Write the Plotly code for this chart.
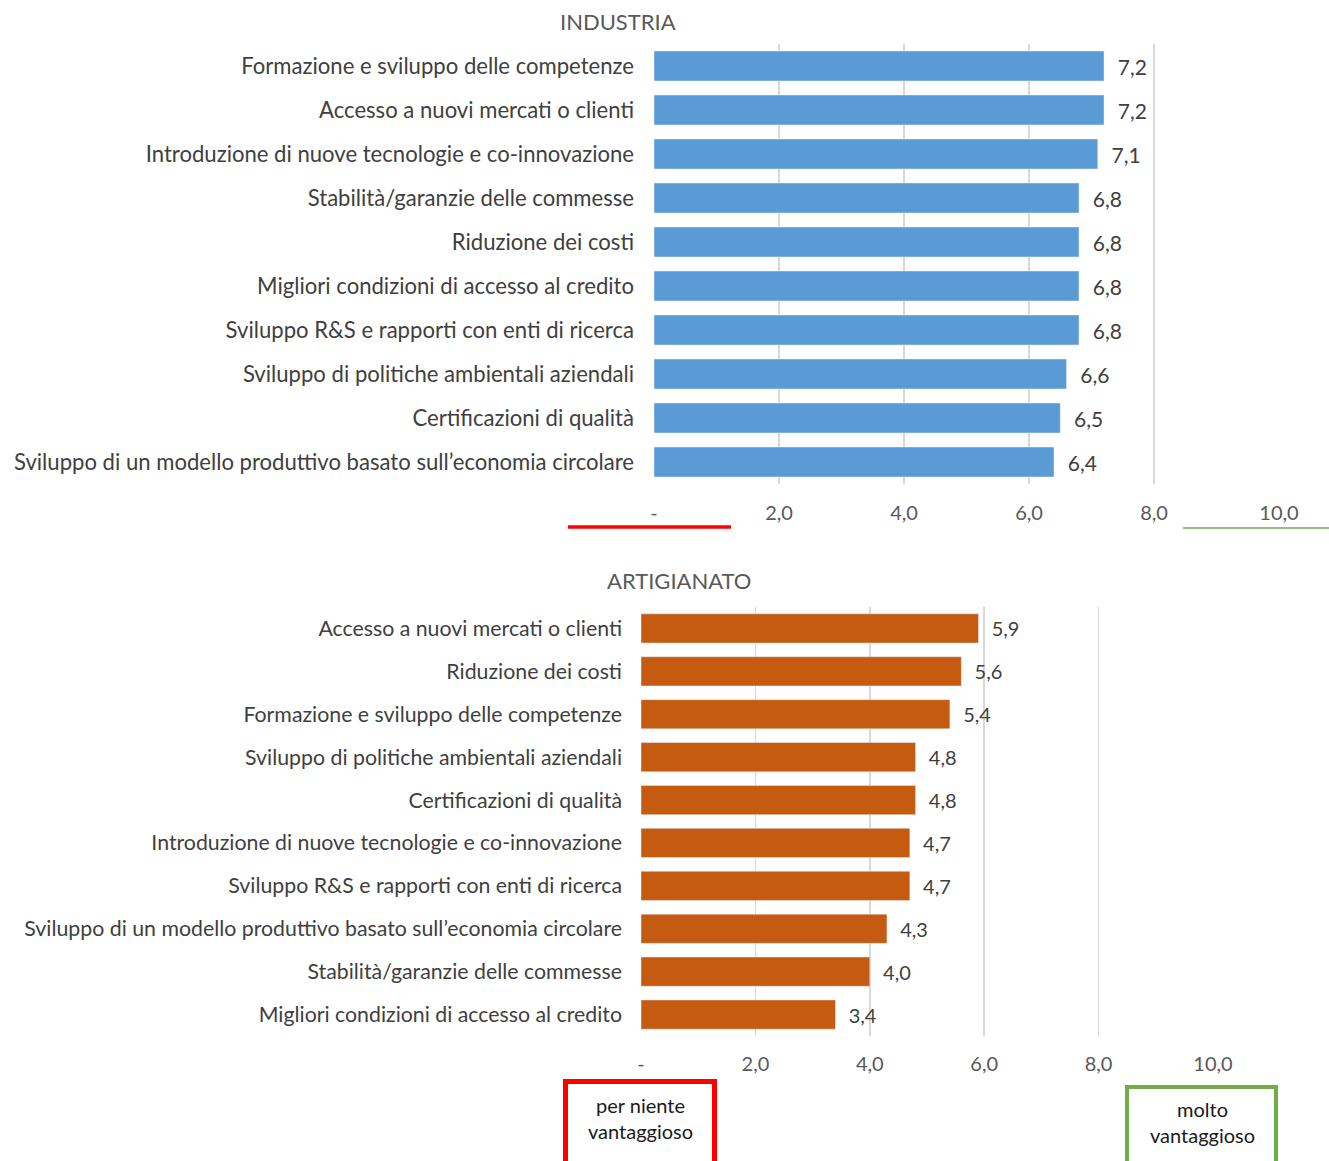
import plotly.graph_objects as go

W, H = 1329, 1161

ind_categories = [
    "Formazione e sviluppo delle competenze",
    "Accesso a nuovi mercati o clienti",
    "Introduzione di nuove tecnologie e co-innovazione",
    "Stabilità/garanzie delle commesse",
    "Riduzione dei costi",
    "Migliori condizioni di accesso al credito",
    "Sviluppo R&S e rapporti con enti di ricerca",
    "Sviluppo di politiche ambientali aziendali",
    "Certificazioni di qualità",
    "Sviluppo di un modello produttivo basato sull’economia circolare",
]
ind_values = [7.2, 7.2, 7.1, 6.8, 6.8, 6.8, 6.8, 6.6, 6.5, 6.4]

art_categories = [
    "Accesso a nuovi mercati o clienti",
    "Riduzione dei costi",
    "Formazione e sviluppo delle competenze",
    "Sviluppo di politiche ambientali aziendali",
    "Certificazioni di qualità",
    "Introduzione di nuove tecnologie e co-innovazione",
    "Sviluppo R&S e rapporti con enti di ricerca",
    "Sviluppo di un modello produttivo basato sull’economia circolare",
    "Stabilità/garanzie delle commesse",
    "Migliori condizioni di accesso al credito",
]
art_values = [5.9, 5.6, 5.4, 4.8, 4.8, 4.7, 4.7, 4.3, 4.0, 3.4]

tick_vals = [0, 2, 4, 6, 8, 10]
tick_text = ["-", "2,0", "4,0", "6,0", "8,0", "10,0"]

FONT = "Lato"
TXT = "#404040"
PAD = "\u00a0\u00a0"


def fmt(v):
    return PAD + f"{v:.1f}".replace(".", ",")


def px(x):
    return x / W


def py(y):
    return 1 - y / H


fig = go.Figure()
fig.add_trace(go.Bar(
    x=ind_values, y=ind_categories, orientation="h",
    marker=dict(color="#5B9BD5"),
    text=[fmt(v) for v in ind_values], textposition="outside",
    textfont=dict(size=21, color=TXT, family=FONT),
    cliponaxis=False, xaxis="x", yaxis="y", hoverinfo="skip",
))
fig.add_trace(go.Bar(
    x=art_values, y=art_categories, orientation="h",
    marker=dict(color="#C55A11"),
    text=[fmt(v) for v in art_values], textposition="outside",
    textfont=dict(size=20, color=TXT, family=FONT),
    cliponaxis=False, xaxis="x2", yaxis="y2", hoverinfo="skip",
))

axis_common = dict(
    range=[0, 10], tickvals=tick_vals, ticktext=tick_text,
    showgrid=True, gridcolor="#d9d9d9", gridwidth=1.5,
    zeroline=False, showline=False, ticks="", fixedrange=True,
    automargin=False,
    tickfont=dict(size=20, color="#595959", family=FONT),
)

fig.update_layout(
    width=W, height=H,
    margin=dict(l=0, r=0, t=0, b=0, pad=0),
    paper_bgcolor="white", plot_bgcolor="white",
    showlegend=False,
    bargap=0.32,
    font=dict(family=FONT, color=TXT),
    xaxis=dict(domain=[px(654), px(1279)], anchor="y", ticklabelstandoff=15, **axis_common),
    yaxis=dict(domain=[py(484), py(44)], anchor="x", autorange="reversed",
               tickfont=dict(size=22.1, color=TXT, family=FONT), ticks="",
               showgrid=False, ticklabelstandoff=19, automargin=False, fixedrange=True),
    xaxis2=dict(domain=[px(641), px(1213)], anchor="y2", ticklabelstandoff=14, **axis_common),
    yaxis2=dict(domain=[py(1036), py(607)], anchor="x2", autorange="reversed",
                tickfont=dict(size=21.3, color=TXT, family=FONT), ticks="",
                showgrid=False, ticklabelstandoff=18, automargin=False, fixedrange=True),
    annotations=[
        dict(text="INDUSTRIA", x=px(618), y=py(22), xref="paper", yref="paper",
             xanchor="center", yanchor="middle",
             showarrow=False, font=dict(size=22, color="#595959", family=FONT)),
        dict(text="ARTIGIANATO", x=px(679), y=py(580), xref="paper", yref="paper",
             xanchor="center", yanchor="middle",
             showarrow=False, font=dict(size=22, color="#595959", family=FONT)),
        dict(text="per niente<br>vantaggioso", x=px(640), y=py(1118), xref="paper", yref="paper",
             xanchor="center", yanchor="middle",
             showarrow=False, font=dict(size=20, color="#1a1a1a", family=FONT)),
        dict(text="molto<br>vantaggioso", x=px(1202), y=py(1122), xref="paper", yref="paper",
             xanchor="center", yanchor="middle",
             showarrow=False, font=dict(size=20, color="#1a1a1a", family=FONT)),
    ],
    shapes=[
        dict(type="line", xref="paper", yref="paper", x0=px(568), x1=px(731),
             y0=py(527), y1=py(527), line=dict(color="#FF0000", width=3.5)),
        dict(type="line", xref="paper", yref="paper", x0=px(1183), x1=px(1329),
             y0=py(528), y1=py(528), line=dict(color="#70AD47", width=1.5)),
        dict(type="rect", xref="paper", yref="paper", x0=px(565.5), x1=px(714.5),
             y0=py(1165), y1=py(1081.5), line=dict(color="#FF0000", width=5)),
        dict(type="rect", xref="paper", yref="paper", x0=px(1127), x1=px(1276),
             y0=py(1165), y1=py(1087), line=dict(color="#70AD47", width=4)),
    ],
)

fig.write_html(
    "out.html",
    config={"displayModeBar": False, "staticPlot": True},
    post_script="document.body.style.margin='0';document.body.style.overflow='hidden';",
)
